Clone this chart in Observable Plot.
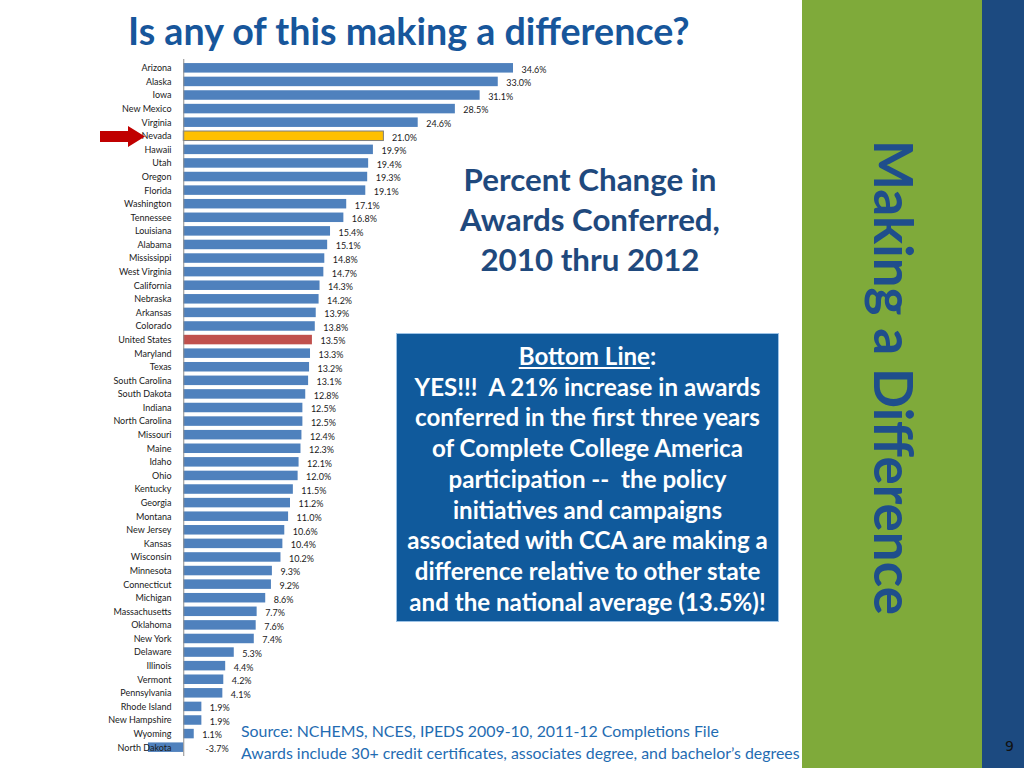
<!DOCTYPE html>
<html>
<head>
<meta charset="utf-8">
<script src="https://cdn.jsdelivr.net/npm/d3@7"></script>
<script src="https://cdn.jsdelivr.net/npm/@observablehq/plot@0.6"></script>
<style>
  html, body { margin: 0; padding: 0; background: #fff; }
  #page { position: relative; width: 1024px; height: 768px; overflow: hidden; background: #fff; font-family: Lato, "Open Sans", sans-serif; }
  .abs { position: absolute; white-space: nowrap; }
  #green { position: absolute; left: 802px; top: 0; width: 180px; height: 768px; background: #7FAA3A; }
  #bluebar { position: absolute; left: 982px; top: 0; width: 42px; height: 768px; background: #1C4A80; }
  #side { position: absolute; left: 872px; top: 140px; writing-mode: vertical-rl; font-weight: 700; color: #1F4E8C; font-size: 44px; line-height: 44px; }
  #title { left: 128px; top: 8px; font-weight: 700; color: #17569B; font-size: 32px; }
  #pct { left: 390px; top: 159px; width: 400px; text-align: center; font-weight: 700; color: #1F497D; font-size: 31.3px; line-height: 40px; white-space: normal; }
  #box { position: absolute; left: 396px; top: 333px; width: 383px; height: 289px; background: #105A9C; border: 1px solid #9DC3E6; box-sizing: border-box; }
  #boxtext { left: 396px; top: 341px; width: 383px; text-align: center; color: #fff; font-weight: 700; font-size: 21px; line-height: 30.7px; white-space: normal; }
  #src { left: 241px; top: 720px; color: #1F6CB2; font-size: 15.5px; line-height: 21px; }
  #num { left: 1005px; top: 738px; font-size: 14px; color: #111; font-family: "DejaVu Sans", sans-serif; }
  #chart { position: absolute; left: 0; top: 55px; }
  #arrow { position: absolute; left: 0; top: 0; }
</style>
</head>
<body>
<div id="page">
  <div id="green"></div>
  <div id="bluebar"></div>
  <div id="side" class="abs">Making a Difference</div>
  <div id="title" class="abs">Is any of this making a difference?</div>
  <div id="pct" class="abs">Percent Change in<br>Awards Conferred,<br>2010 thru 2012</div>
  <div id="box"></div>
  <div id="boxtext" class="abs"><span style="text-decoration: underline;">Bottom Line</span>:<br><span id="l1">YES!!!&nbsp; A 21% increase in awards</span><br>conferred in the first three years<br>of Complete College America<br>participation --&nbsp; the policy<br>initiatives and campaigns<br>associated with CCA are making a<br>difference relative to other state<br>and the national average (13.5%)!</div>
  <div id="src" class="abs"><span id="s1">Source: NCHEMS, NCES, IPEDS 2009-10, 2011-12 Completions File</span><br><span id="s2">Awards include 30+ credit certificates, associates degree, and bachelor’s degrees</span></div>
  <div id="num" class="abs">9</div>
  <div id="chart"></div>
  <svg id="arrow" width="160" height="160">
    <polygon points="100,131 128,131 128,126 145,136.5 128,147 128,142 100,142" fill="#C00000"></polygon>
  </svg>
</div>
<script>
const states = ["Arizona","Alaska","Iowa","New Mexico","Virginia","Nevada","Hawaii","Utah","Oregon","Florida","Washington","Tennessee","Louisiana","Alabama","Mississippi","West Virginia","California","Nebraska","Arkansas","Colorado","United States","Maryland","Texas","South Carolina","South Dakota","Indiana","North Carolina","Missouri","Maine","Idaho","Ohio","Kentucky","Georgia","Montana","New Jersey","Kansas","Wisconsin","Minnesota","Connecticut","Michigan","Massachusetts","Oklahoma","New York","Delaware","Illinois","Vermont","Pennsylvania","Rhode Island","New Hampshire","Wyoming","North Dakota"];
const values = [34.6,33.0,31.1,28.5,24.6,21.0,19.9,19.4,19.3,19.1,17.1,16.8,15.4,15.1,14.8,14.7,14.3,14.2,13.9,13.8,13.5,13.3,13.2,13.1,12.8,12.5,12.5,12.4,12.3,12.1,12.0,11.5,11.2,11.0,10.6,10.4,10.2,9.3,9.2,8.6,7.7,7.6,7.4,5.3,4.4,4.2,4.1,1.9,1.9,1.1,-3.7];
const groups = ["Other","Nevada","United States"];
const groupColors = ["#4F81BD","#FFC000","#C0504D"];

const data = states.map((s, i) => ({
  state: s,
  value: values[i],
  group: s === "Nevada" ? "Nevada" : s === "United States" ? "United States" : "Other"
}));

const chart = Plot.plot({
  width: 560,
  height: 710,
  marginLeft: 148,
  marginRight: 47,
  marginTop: 4,
  marginBottom: 9,
  x: {domain: [d3.min(values), d3.max(values)], axis: null},
  y: {domain: states, padding: 0.3, round: false, axis: null},
  color: {domain: groups, range: groupColors},
  style: {fontFamily: "Lato, sans-serif", fontSize: "9px", color: "#1a1a1a", background: "transparent"},
  marks: [
    Plot.barX(data, {x: "value", y: "state", fill: "group"}),
    Plot.barX(data.filter(d => d.group === "Nevada"), {x: "value", y: "state", fill: "group", stroke: "#7f7f7f", strokeWidth: 1}),
    Plot.ruleX([0], {stroke: "#8c8c8c", strokeWidth: 1}),
    Plot.axisY({tickSize: 0, dx: 32, fontSize: 9, fill: "#1a1a1a", label: null}),
    Plot.text(data.filter(d => d.value >= 0), {x: "value", y: "state", text: d => d.value.toFixed(1) + "%", textAnchor: "start", dx: 8, dy: 1.5, fill: "#1a1a1a"}),
    Plot.text(data.filter(d => d.value < 0), {x: "value", y: "state", text: d => d.value.toFixed(1) + "%", textAnchor: "start", dx: 57, dy: 1.5, fill: "#1a1a1a"})
  ]
});
document.getElementById("chart").appendChild(chart);

// Fit text widths to the reference layout
function fit(el, target) {
  const w = el.getBoundingClientRect().width;
  const fs = parseFloat(getComputedStyle(el).fontSize);
  if (w > 0) el.style.fontSize = (fs * target / w) + "px";
}
fit(document.getElementById("title"), 562);
fit(document.getElementById("s2"), 559);
document.getElementById("s1").style.fontSize = document.getElementById("s2").style.fontSize;
const sideEl = document.getElementById("side");
{
  const h = sideEl.getBoundingClientRect().height;
  const fs = parseFloat(getComputedStyle(sideEl).fontSize);
  sideEl.style.fontSize = (fs * 475 / h) + "px";
}
{
  const l1 = document.getElementById("l1");
  const w = l1.getBoundingClientRect().width;
  const bt = document.getElementById("boxtext");
  const fs = parseFloat(getComputedStyle(bt).fontSize);
  bt.style.fontSize = (fs * 346 / w) + "px";
}
</script>
</body>
</html>
